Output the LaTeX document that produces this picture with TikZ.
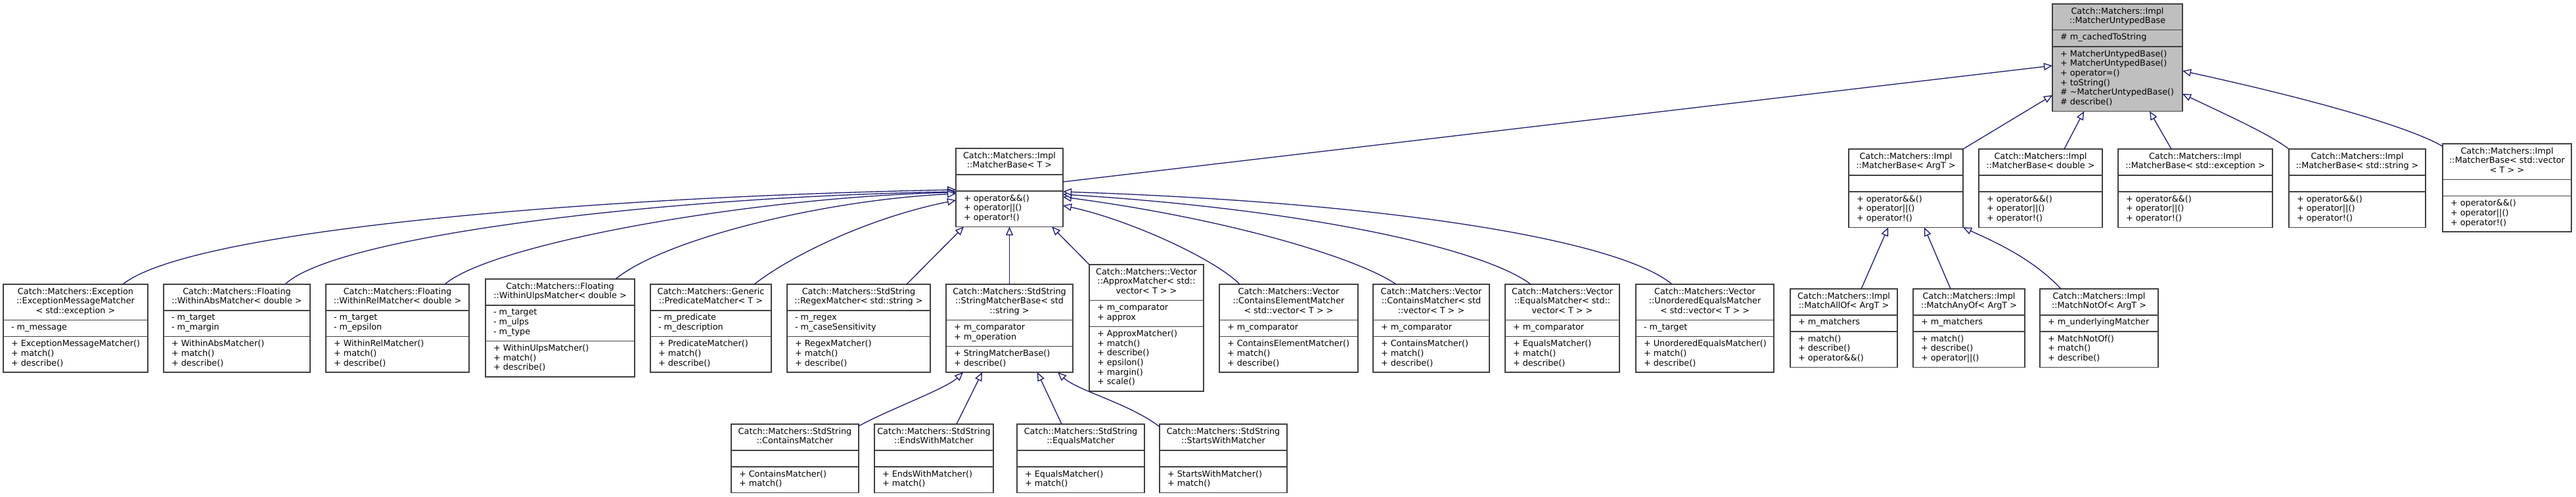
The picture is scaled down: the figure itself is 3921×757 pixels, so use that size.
\documentclass[tikz,border=0pt]{standalone}
\usepackage{fontspec}
\setmainfont{DejaVu Sans}
\usetikzlibrary{arrows.meta,calc,fit}
\definecolor{edgeblue}{HTML}{191970}
\definecolor{rootgray}{HTML}{BFBFBF}
\definecolor{boxline}{HTML}{404040}
\newcommand\ubfill{white}
\newcommand\umlbox[9]{%
  \def\ubname{#1}\def\ubxa{#2}\def\ubya{#3}\def\ubxb{#4}%
  \def\ubnt{#5}\def\ubna{#6}\def\ubnm{#7}%
  \def\ubtitle{#8}\def\ubattr{#9}%
  \umlboxfinish}
\newcommand\umlboxfinish[1]{%
  \pgfmathsetmacro\ubsa{\ubya+14.7*max(\ubnt,1)+10.4}%
  \pgfmathsetmacro\ubsb{\ubsa+14.7*max(\ubna,1)+10.4}%
  \pgfmathsetmacro\ubyb{\ubsb+14.7*max(\ubnm,1)+10.4}%
  \pgfmathsetmacro\ubxc{(\ubxa+\ubxb)/2}%
  \node[cbox, fill=\ubfill, fit={(\ubxa,\ubya) (\ubxb,\ubyb)}] (\ubname) {};
  \draw[csep] (\ubxa,\ubsa) -- (\ubxb,\ubsa);
  \draw[csep] (\ubxa,\ubsb) -- (\ubxb,\ubsb);
  \node[ctext, align=center, anchor=north] (\ubname-t) at (\ubxc,\ubya+4.9) {\strut\ubtitle};
  \node[ctext, align=left, anchor=north west] (\ubname-a) at (\ubxa+12,\ubsa+4.9) {\strut\ubattr};
  \node[ctext, align=left, anchor=north west] (\ubname-m) at (\ubxa+12,\ubsb+4.9) {\strut#1};
}
\begin{document}
\begin{tikzpicture}[x=1pt, y=-1pt,
  cbox/.style={draw=boxline, line width=1.4pt, inner sep=0pt, outer sep=0pt, rectangle},
  csep/.style={draw=boxline, line width=1.4pt},
  ctext/.style={inner sep=0pt, outer sep=0pt, text=black, font=\fontsize{12.8}{14.7}\selectfont},
  inh/.style={draw=edgeblue, line width=1.3pt, -{Triangle[length=13pt, width=11pt, fill=white]}}]
\useasboundingbox (0,0) rectangle (3921,757);
\fill[white] (0,0) rectangle (3921,757);

% ---- top: root
\renewcommand\ubfill{rootgray}
\umlbox{root}{3124}{6}{3322}{2}{1}{6}{Catch::Matchers::Impl\\::MatcherUntypedBase}{\# m\_cachedToString}{+ MatcherUntypedBase()\\+ MatcherUntypedBase()\\+ operator=()\\+ toString()\\\# \textasciitilde MatcherUntypedBase()\\\# describe()}
\renewcommand\ubfill{white}

% ---- second row
\umlbox{mbT}{1455}{226}{1618}{2}{0}{3}{Catch::Matchers::Impl\\::MatcherBase< T >}{}{+ operator\&\&()\\+ operator||()\\+ operator!()}
\umlbox{mbArgT}{2814}{227}{2988}{2}{0}{3}{Catch::Matchers::Impl\\::MatcherBase< ArgT >}{}{+ operator\&\&()\\+ operator||()\\+ operator!()}
\umlbox{mbDouble}{3012}{227}{3200}{2}{0}{3}{Catch::Matchers::Impl\\::MatcherBase< double >}{}{+ operator\&\&()\\+ operator||()\\+ operator!()}
\umlbox{mbExc}{3224}{227}{3459}{2}{0}{3}{Catch::Matchers::Impl\\::MatcherBase< std::exception >}{}{+ operator\&\&()\\+ operator||()\\+ operator!()}
\umlbox{mbStr}{3484}{227}{3692}{2}{0}{3}{Catch::Matchers::Impl\\::MatcherBase< std::string >}{}{+ operator\&\&()\\+ operator||()\\+ operator!()}
\umlbox{mbVec}{3718}{219}{3914}{3}{0}{3}{Catch::Matchers::Impl\\::MatcherBase< std::vector\\< T > >}{}{+ operator\&\&()\\+ operator||()\\+ operator!()}

% ---- third row
\umlbox{exc}{5}{433}{225}{3}{1}{3}{Catch::Matchers::Exception\\::ExceptionMessageMatcher\\< std::exception >}{- m\_message}{+ ExceptionMessageMatcher()\\+ match()\\+ describe()}
\umlbox{abs}{249}{433}{472}{2}{2}{3}{Catch::Matchers::Floating\\::WithinAbsMatcher< double >}{- m\_target\\- m\_margin}{+ WithinAbsMatcher()\\+ match()\\+ describe()}
\umlbox{rel}{496}{433}{714}{2}{2}{3}{Catch::Matchers::Floating\\::WithinRelMatcher< double >}{- m\_target\\- m\_epsilon}{+ WithinRelMatcher()\\+ match()\\+ describe()}
\umlbox{ulps}{739}{425}{966}{2}{3}{3}{Catch::Matchers::Floating\\::WithinUlpsMatcher< double >}{- m\_target\\- m\_ulps\\- m\_type}{+ WithinUlpsMatcher()\\+ match()\\+ describe()}
\umlbox{pred}{990}{433}{1174}{2}{2}{3}{Catch::Matchers::Generic\\::PredicateMatcher< T >}{- m\_predicate\\- m\_description}{+ PredicateMatcher()\\+ match()\\+ describe()}
\umlbox{regex}{1198}{433}{1416}{2}{2}{3}{Catch::Matchers::StdString\\::RegexMatcher< std::string >}{- m\_regex\\- m\_caseSensitivity}{+ RegexMatcher()\\+ match()\\+ describe()}
\umlbox{smb}{1440}{433}{1633}{3}{2}{2}{Catch::Matchers::StdString\\::StringMatcherBase< std\\::string >}{+ m\_comparator\\+ m\_operation}{+ StringMatcherBase()\\+ describe()}
\umlbox{approx}{1658}{403}{1832}{3}{2}{6}{Catch::Matchers::Vector\\::ApproxMatcher< std::\\vector< T > >}{+ m\_comparator\\+ approx}{+ ApproxMatcher()\\+ match()\\+ describe()\\+ epsilon()\\+ margin()\\+ scale()}
\umlbox{contel}{1856}{433}{2067}{3}{1}{3}{Catch::Matchers::Vector\\::ContainsElementMatcher\\< std::vector< T > >}{+ m\_comparator}{+ ContainsElementMatcher()\\+ match()\\+ describe()}
\umlbox{vcont}{2090}{433}{2267}{3}{1}{3}{Catch::Matchers::Vector\\::ContainsMatcher< std\\::vector< T > >}{+ m\_comparator}{+ ContainsMatcher()\\+ match()\\+ describe()}
\umlbox{veq}{2291}{433}{2465}{3}{1}{3}{Catch::Matchers::Vector\\::EqualsMatcher< std::\\vector< T > >}{+ m\_comparator}{+ EqualsMatcher()\\+ match()\\+ describe()}
\umlbox{vuneq}{2490}{433}{2700}{3}{1}{3}{Catch::Matchers::Vector\\::UnorderedEqualsMatcher\\< std::vector< T > >}{- m\_target}{+ UnorderedEqualsMatcher()\\+ match()\\+ describe()}
\umlbox{allof}{2725}{440}{2888}{2}{1}{3}{Catch::Matchers::Impl\\::MatchAllOf< ArgT >}{+ m\_matchers}{+ match()\\+ describe()\\+ operator\&\&()}
\umlbox{anyof}{2912}{440}{3082}{2}{1}{3}{Catch::Matchers::Impl\\::MatchAnyOf< ArgT >}{+ m\_matchers}{+ match()\\+ describe()\\+ operator||()}
\umlbox{notof}{3105}{440}{3285}{2}{1}{3}{Catch::Matchers::Impl\\::MatchNotOf< ArgT >}{+ m\_underlyingMatcher}{+ MatchNotOf()\\+ match()\\+ describe()}

% ---- fourth row
\umlbox{scont}{1113}{646}{1307}{2}{0}{2}{Catch::Matchers::StdString\\::ContainsMatcher}{}{+ ContainsMatcher()\\+ match()}
\umlbox{sends}{1331}{646}{1512}{2}{0}{2}{Catch::Matchers::StdString\\::EndsWithMatcher}{}{+ EndsWithMatcher()\\+ match()}
\umlbox{seq}{1548}{646}{1742}{2}{0}{2}{Catch::Matchers::StdString\\::EqualsMatcher}{}{+ EqualsMatcher()\\+ match()}
\umlbox{sstarts}{1765}{646}{1959}{2}{0}{2}{Catch::Matchers::StdString\\::StartsWithMatcher}{}{+ StartsWithMatcher()\\+ match()}

% ---- edges to root
\draw[inh] ($(mbT.north east)+(0,51)$) -- ($(root.north west)+(0,94)$);
\draw[inh] (mbArgT.north east) -- ($(root.north west)+(0,139)$);
\draw[inh] ($(mbDouble.north west)+(130,0)$) -- ($(root.south west)+(48,0)$);
\draw[inh] ($(mbExc.north west)+(81,0)$) -- ($(root.south west)+(148,0)$);
\draw[inh] (mbStr.north west) .. controls (3455,205) and (3400,180) .. ($(root.north east)+(0,137)$);
\draw[inh] ($(mbVec.north west)+(0,4)$) .. controls (3680,200) and (3560,160) .. ($(root.north east)+(0,102)$);

% ---- edges to MatcherBase<T>
\draw[inh] ($(exc.north west)+(182,0)$) .. controls (290,350) and (900,300) .. ($(mbT.north west)+(0,63)$);
\draw[inh] ($(abs.north west)+(185,0)$) .. controls (510,360) and (1000,300) .. ($(mbT.north west)+(0,66)$);
\draw[inh] ($(rel.north west)+(181,0)$) .. controls (750,370) and (1150,300) .. ($(mbT.north west)+(0,67)$);
\draw[inh] ($(ulps.north west)+(198,0)$) .. controls (1010,365) and (1250,305) .. ($(mbT.north west)+(0,69)$);
\draw[inh] ($(pred.north west)+(158,0)$) .. controls (1210,385) and (1330,330) .. ($(mbT.north west)+(0,79)$);
\draw[inh] ($(regex.north west)+(182,0)$) -- ($(mbT.south west)+(12,0)$);
\draw[inh] (smb.north) -- (mbT.south);
\draw[inh] (approx.north west) -- ($(mbT.south west)+(146,0)$);
\draw[inh] ($(contel.north west)+(31,0)$) .. controls (1850,395) and (1720,335) .. ($(mbT.north east)+(0,87)$);
\draw[inh] ($(vcont.north west)+(35,0)$) .. controls (2070,395) and (1880,335) .. ($(mbT.north east)+(0,74)$);
\draw[inh] ($(veq.north west)+(39,0)$) .. controls (2260,380) and (2000,320) .. ($(mbT.north east)+(0,70)$);
\draw[inh] ($(vuneq.north west)+(55,0)$) .. controls (2470,370) and (2150,310) .. ($(mbT.north east)+(0,66)$);

% ---- edges to MatcherBase<ArgT>
\draw[inh] ($(allof.north west)+(108,0)$) -- ($(mbArgT.south west)+(60,0)$);
\draw[inh] ($(anyof.north west)+(57,0)$) -- ($(mbArgT.south west)+(115,0)$);
\draw[inh] ($(notof.north west)+(32,0)$) .. controls (3095,395) and (3040,370) .. (mbArgT.south east);

% ---- edges to StringMatcherBase
\draw[inh] ($(scont.north east)+(0,3)$) .. controls (1350,625) and (1440,592) .. ($(smb.south west)+(26,0)$);
\draw[inh] ($(sends.north west)+(125,0)$) -- ($(smb.south west)+(55,0)$);
\draw[inh] ($(seq.north west)+(68,0)$) -- ($(smb.south west)+(139,0)$);
\draw[inh] ($(sstarts.north west)+(0,4)$) .. controls (1720,615) and (1640,595) .. ($(smb.south west)+(170,0)$);
\end{tikzpicture}
\end{document}
